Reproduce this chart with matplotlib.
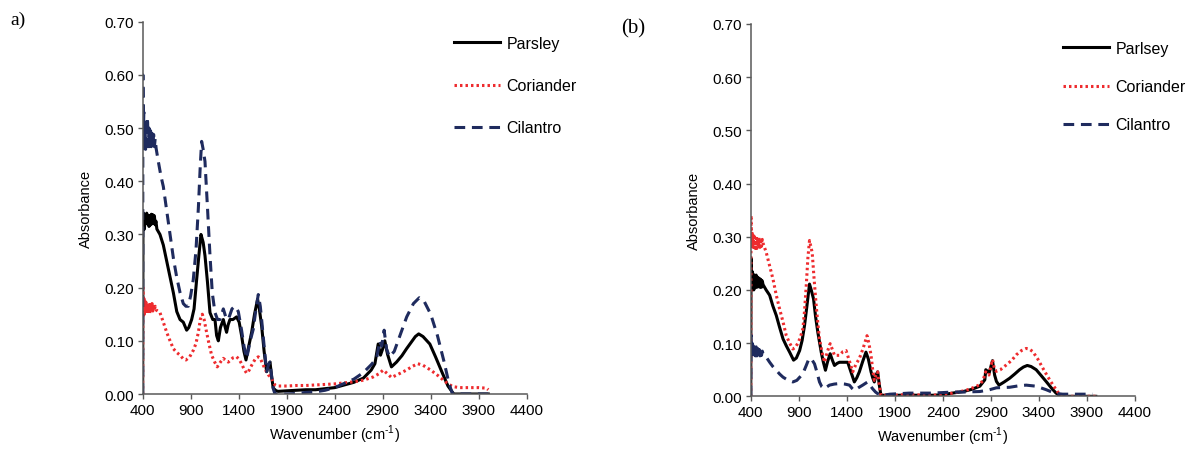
import numpy as np
import matplotlib
matplotlib.use("Agg")
import matplotlib.pyplot as plt

plt.rcParams['font.family'] = ['Liberation Sans', 'DejaVu Sans']
plt.rcParams['mathtext.fontset'] = 'custom'
plt.rcParams['mathtext.rm'] = 'Liberation Sans'

# ---------------- panel a) ----------------
wn_parsley_a = [400, 403, 410, 418, 426, 434, 442, 450, 458, 466, 474, 482, 490, 498, 506, 514, 522,
                530, 538, 548, 580, 615, 650, 685, 720, 755, 789, 823, 858, 880, 910, 935, 962, 985,
                1007, 1030, 1049, 1075, 1101, 1130, 1153, 1170, 1188, 1210, 1240, 1260, 1274, 1290,
                1309, 1340, 1378, 1405, 1430, 1455, 1476, 1505, 1535, 1565, 1597, 1615, 1639, 1665,
                1691, 1710, 1726, 1745, 1760, 1790, 1812, 1900, 2000, 2100, 2200, 2300, 2400, 2500,
                2600, 2700, 2780, 2819, 2853, 2877, 2900, 2922, 2950, 2991, 3044, 3100, 3148, 3200,
                3240, 3275, 3320, 3391, 3450, 3520, 3580, 3640, 3700, 3800, 3900, 4000]
abs_parsley_a = [0.0, 0.32, 0.34, 0.31, 0.335, 0.32, 0.34, 0.322, 0.335, 0.315, 0.335, 0.318, 0.338,
                 0.32, 0.337, 0.322, 0.335, 0.318, 0.325, 0.31, 0.30, 0.28, 0.25, 0.22, 0.19, 0.155,
                 0.14, 0.135, 0.12, 0.125, 0.14, 0.16, 0.215, 0.26, 0.30, 0.285, 0.26, 0.21, 0.153,
                 0.14, 0.14, 0.11, 0.10, 0.125, 0.14, 0.125, 0.116, 0.13, 0.14, 0.14, 0.145, 0.135,
                 0.11, 0.08, 0.064, 0.09, 0.116, 0.15, 0.178, 0.16, 0.128, 0.08, 0.042, 0.055, 0.06,
                 0.03, 0.011, 0.006, 0.005, 0.006, 0.007, 0.008, 0.008, 0.01, 0.012, 0.017, 0.022,
                 0.03, 0.045, 0.057, 0.094, 0.073, 0.085, 0.10, 0.075, 0.051, 0.06, 0.072, 0.085,
                 0.098, 0.108, 0.113, 0.108, 0.094, 0.07, 0.04, 0.015, 0.0, 0.0, 0.0, 0.0, 0.0]

wn_coriander_a = [400, 402, 406, 412, 418, 424, 430, 436, 442, 450, 458, 466, 474, 482, 490, 498, 506,
                  514, 522, 530, 540, 580, 615, 650, 685, 720, 755, 789, 823, 851, 890, 927, 955, 980,
                  1000, 1021, 1040, 1059, 1090, 1118, 1150, 1177, 1210, 1240, 1265, 1292, 1340, 1378,
                  1405, 1430, 1455, 1483, 1510, 1535, 1570, 1604, 1630, 1656, 1680, 1708, 1743, 1760,
                  1778, 1800, 1900, 2000, 2100, 2200, 2300, 2400, 2500, 2600, 2700, 2800, 2860, 2905,
                  2950, 2991, 3060, 3148, 3210, 3265, 3320, 3400, 3480, 3560, 3627, 3700, 3800, 3900,
                  3980, 4000]
abs_coriander_a = [0.0, 0.20, 0.155, 0.18, 0.15, 0.175, 0.155, 0.172, 0.152, 0.17, 0.155, 0.168, 0.152,
                   0.172, 0.155, 0.17, 0.156, 0.168, 0.157, 0.165, 0.158, 0.153, 0.135, 0.116, 0.10,
                   0.085, 0.078, 0.073, 0.066, 0.064, 0.07, 0.082, 0.095, 0.116, 0.14, 0.15, 0.14,
                   0.122, 0.095, 0.073, 0.06, 0.051, 0.06, 0.067, 0.063, 0.06, 0.068, 0.07, 0.065,
                   0.057, 0.047, 0.039, 0.045, 0.054, 0.065, 0.07, 0.065, 0.054, 0.045, 0.036, 0.03,
                   0.022, 0.017, 0.015, 0.015, 0.016, 0.016, 0.017, 0.018, 0.019, 0.021, 0.023, 0.026,
                   0.032, 0.038, 0.045, 0.038, 0.031, 0.037, 0.045, 0.052, 0.057, 0.054, 0.045, 0.034,
                   0.022, 0.014, 0.012, 0.012, 0.012, 0.011, 0.008]

wn_cilantro_a = [400, 402, 406, 412, 418, 424, 430, 436, 442, 450, 458, 466, 474, 482, 490, 498, 506,
                 514, 522, 530, 540, 560, 590, 615, 650, 685, 720, 754, 790, 823, 850, 875, 900, 927,
                 955, 980, 1000, 1014, 1030, 1049, 1075, 1100, 1125, 1153, 1180, 1205, 1240, 1265,
                 1292, 1330, 1361, 1396, 1430, 1455, 1483, 1520, 1552, 1580, 1604, 1625, 1639, 1665,
                 1691, 1710, 1726, 1745, 1760, 1778, 1900, 2000, 2100, 2200, 2300, 2400, 2500, 2600,
                 2697, 2780, 2836, 2870, 2890, 2915, 2940, 2970, 3020, 3080, 3150, 3220, 3281, 3330,
                 3400, 3470, 3540, 3590, 3627, 3700, 3800, 3900, 4000]
abs_cilantro_a = [0.0, 0.60, 0.48, 0.53, 0.47, 0.51, 0.46, 0.50, 0.47, 0.52, 0.465, 0.50, 0.465, 0.495,
                  0.465, 0.49, 0.468, 0.488, 0.465, 0.48, 0.462, 0.44, 0.41, 0.39, 0.345, 0.30, 0.255,
                  0.22, 0.19, 0.17, 0.165, 0.165, 0.185, 0.215, 0.27, 0.35, 0.43, 0.475, 0.46, 0.437,
                  0.35, 0.264, 0.19, 0.153, 0.14, 0.14, 0.16, 0.145, 0.14, 0.16, 0.165, 0.155, 0.12,
                  0.09, 0.067, 0.10, 0.122, 0.16, 0.187, 0.165, 0.14, 0.09, 0.042, 0.055, 0.06, 0.03,
                  0.01, 0.0, 0.0, 0.001, 0.003, 0.004, 0.007, 0.012, 0.02, 0.028, 0.04, 0.055, 0.067,
                  0.10, 0.09, 0.12, 0.085, 0.07, 0.08, 0.11, 0.145, 0.17, 0.181, 0.175, 0.15, 0.11,
                  0.06, 0.02, 0.0, 0.0, 0.0, 0.0, 0.0]

# ---------------- panel (b) ----------------
wn_parsley_b = [400, 403, 408, 414, 420, 426, 432, 440, 448, 456, 464, 472, 480, 488, 496, 504, 512,
                520, 528, 560, 597, 630, 666, 700, 736, 770, 805, 846, 875, 909, 935, 960, 985, 1012,
                1030, 1054, 1075, 1099, 1134, 1155, 1178, 1200, 1227, 1250, 1272, 1300, 1324, 1370,
                1410, 1445, 1479, 1505, 1531, 1565, 1600, 1625, 1653, 1670, 1687, 1705, 1722, 1740,
                1756, 1800, 1900, 2000, 2100, 2200, 2300, 2400, 2500, 2614, 2700, 2786, 2838, 2848,
                2883, 2918, 2940, 2959, 2986, 3040, 3097, 3150, 3200, 3240, 3280, 3320, 3373, 3420,
                3476, 3530, 3580, 3632, 3700, 3800, 3900, 3994]
abs_parsley_b = [0.0, 0.26, 0.20, 0.235, 0.205, 0.23, 0.20, 0.225, 0.205, 0.228, 0.205, 0.224, 0.206,
                 0.222, 0.205, 0.22, 0.205, 0.217, 0.21, 0.20, 0.19, 0.17, 0.152, 0.13, 0.108, 0.095,
                 0.083, 0.068, 0.072, 0.086, 0.105, 0.133, 0.17, 0.211, 0.20, 0.183, 0.15, 0.12,
                 0.083, 0.065, 0.049, 0.065, 0.08, 0.068, 0.058, 0.062, 0.064, 0.064, 0.064, 0.045,
                 0.027, 0.035, 0.046, 0.065, 0.083, 0.07, 0.046, 0.035, 0.027, 0.04, 0.046, 0.02,
                 0.002, 0.002, 0.002, 0.002, 0.002, 0.002, 0.002, 0.003, 0.006, 0.009, 0.013, 0.019,
                 0.031, 0.05, 0.044, 0.067, 0.04, 0.028, 0.021, 0.027, 0.034, 0.042, 0.05, 0.055,
                 0.058, 0.056, 0.05, 0.04, 0.028, 0.016, 0.006, 0.0, 0.0, 0.0, 0.0, 0.0]

wn_coriander_b = [400, 403, 408, 414, 420, 426, 432, 440, 448, 456, 464, 472, 480, 488, 496, 504, 512,
                  520, 528, 562, 597, 632, 666, 701, 736, 770, 805, 839, 865, 891, 915, 943, 960, 978,
                  995, 1012, 1040, 1060, 1082, 1100, 1116, 1140, 1168, 1200, 1227, 1250, 1272, 1300,
                  1324, 1360, 1393, 1430, 1462, 1495, 1531, 1570, 1611, 1630, 1653, 1670, 1687, 1705,
                  1722, 1740, 1756, 1800, 1900, 2000, 2100, 2200, 2300, 2400, 2500, 2638, 2700, 2777,
                  2820, 2846, 2881, 2918, 2940, 2959, 3000, 3062, 3120, 3166, 3220, 3269, 3300, 3338,
                  3390, 3442, 3490, 3545, 3590, 3632, 3700, 3800, 3900, 3994]
abs_coriander_b = [0.0, 0.34, 0.28, 0.31, 0.28, 0.305, 0.275, 0.30, 0.278, 0.302, 0.278, 0.298, 0.28,
                   0.298, 0.28, 0.296, 0.282, 0.295, 0.288, 0.27, 0.245, 0.22, 0.19, 0.164, 0.14,
                   0.114, 0.10, 0.089, 0.092, 0.10, 0.11, 0.127, 0.16, 0.208, 0.26, 0.293, 0.27, 0.22,
                   0.17, 0.135, 0.108, 0.085, 0.064, 0.085, 0.099, 0.088, 0.077, 0.077, 0.077, 0.084,
                   0.086, 0.065, 0.046, 0.06, 0.071, 0.09, 0.114, 0.10, 0.077, 0.05, 0.03, 0.04,
                   0.046, 0.02, 0.002, 0.002, 0.002, 0.003, 0.003, 0.002, 0.002, 0.003, 0.006, 0.011,
                   0.015, 0.021, 0.03, 0.046, 0.04, 0.069, 0.05, 0.047, 0.05, 0.059, 0.068, 0.078,
                   0.086, 0.09, 0.089, 0.084, 0.07, 0.053, 0.038, 0.022, 0.01, 0.0, 0.0, 0.0, 0.0, 0.0]

wn_cilantro_b = [400, 403, 408, 414, 420, 426, 432, 440, 448, 456, 464, 472, 480, 488, 496, 504, 512,
                 520, 528, 560, 597, 630, 666, 700, 736, 790, 839, 880, 926, 955, 978, 1000, 1019,
                 1040, 1064, 1090, 1116, 1140, 1168, 1195, 1220, 1270, 1324, 1380, 1428, 1455, 1479,
                 1520, 1566, 1600, 1618, 1645, 1670, 1700, 1722, 1774, 1850, 1950, 2050, 2150, 2269,
                 2400, 2500, 2614, 2786, 2880, 2959, 3097, 3200, 3269, 3373, 3476, 3550, 3597, 3649,
                 3750, 3850, 3960]
abs_cilantro_b = [0.0, 0.115, 0.08, 0.10, 0.075, 0.095, 0.078, 0.092, 0.076, 0.093, 0.076, 0.09, 0.077,
                  0.088, 0.076, 0.087, 0.077, 0.085, 0.08, 0.074, 0.064, 0.056, 0.049, 0.042, 0.036,
                  0.03, 0.027, 0.03, 0.039, 0.048, 0.058, 0.068, 0.072, 0.068, 0.061, 0.045, 0.027,
                  0.018, 0.014, 0.018, 0.021, 0.023, 0.024, 0.023, 0.021, 0.015, 0.011, 0.016, 0.021,
                  0.025, 0.027, 0.02, 0.014, 0.008, 0.005, 0.002, 0.004, 0.005, 0.006, 0.006, 0.006,
                  0.007, 0.008, 0.008, 0.009, 0.012, 0.016, 0.017, 0.02, 0.021, 0.019, 0.0125, 0.007,
                  0.005, 0.004, 0.004, 0.004, 0.004]

x_ticks = np.arange(400, 4401, 500)
y_ticks = np.arange(0, 0.701, 0.1)

black = 'black'
red = '#EE2B2E'
navy = '#1F2B5E'
spine_col = '#595959'

fig = plt.figure(figsize=(11.93, 4.52), dpi=100)
ax_a = fig.add_axes([0.1196, 0.1261, 0.3219, 0.8237])
ax_b = fig.add_axes([0.6293, 0.1210, 0.3219, 0.8237])


def draw_panel(ax, data, labels, leg_x, leg_y, spacing):
    (wp, ap), (wc, ac), (wl, al) = data
    ax.plot(wp, ap, color=black, lw=2.2, label=labels[0])
    ax.plot(wc, ac, color=red, lw=2.2, linestyle=(0, (0.8, 1.0)), label=labels[1])
    ax.plot(wl, al, color=navy, lw=2.2, linestyle=(0, (3.5, 2.2)), label=labels[2])

    ax.set_xlim(400, 4400)
    ax.set_ylim(0, 0.70)
    ax.set_xticks(x_ticks)
    ax.set_yticks(y_ticks)
    ax.set_yticklabels(["%.2f" % v for v in y_ticks])
    ax.tick_params(direction='out', length=3.5, width=1, color=spine_col, labelsize=11, pad=3)
    for s in ['top', 'right']:
        ax.spines[s].set_visible(False)
    for s in ['left', 'bottom']:
        ax.spines[s].set_color(spine_col)
        ax.spines[s].set_linewidth(1.1)
    ax.set_xlabel(r'Wavenumber (cm$^{\text{-}\mathregular{1}}$)', fontsize=10.5, labelpad=4)
    ax.set_ylabel('Absorbance', fontsize=10.5, labelpad=8)

    ax.legend(loc='upper left', bbox_to_anchor=(leg_x, leg_y), bbox_transform=fig.transFigure,
              frameon=False, fontsize=11.5, borderpad=0, borderaxespad=0,
              handlelength=2.9, handletextpad=0.38, labelspacing=spacing)


draw_panel(ax_a,
           [(wn_parsley_a, abs_parsley_a), (wn_coriander_a, abs_coriander_a), (wn_cilantro_a, abs_cilantro_a)],
           ['Parsley', 'Coriander', 'Cilantro'], 0.3806, 0.918, 1.7)
draw_panel(ax_b,
           [(wn_parsley_b, abs_parsley_b), (wn_coriander_b, abs_coriander_b), (wn_cilantro_b, abs_cilantro_b)],
           ['Parlsey', 'Coriander', 'Cilantro'], 0.891, 0.907, 1.45)

fig.text(0.0084, 0.975, 'a)', family=['Liberation Serif', 'DejaVu Serif'], fontsize=14, va='top', ha='left')
fig.text(0.521, 0.958, '(b)', family=['Liberation Serif', 'DejaVu Serif'], fontsize=15, va='top', ha='left')

fig.savefig('out.png', dpi=100)
